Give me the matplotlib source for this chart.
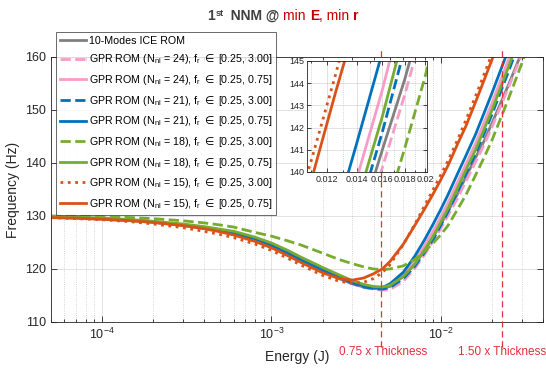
import matplotlib
matplotlib.use("Agg")
import matplotlib.pyplot as plt
from matplotlib.ticker import FixedLocator, NullFormatter, LogLocator

plt.rcParams['font.family'] = ['Liberation Sans', 'DejaVu Sans']
plt.rcParams['mathtext.fontset'] = 'custom'
plt.rcParams['mathtext.rm'] = 'Liberation Sans'
plt.rcParams['mathtext.it'] = 'Liberation Sans:italic'
plt.rcParams['mathtext.bf'] = 'Liberation Sans:bold'
plt.rcParams['mathtext.sf'] = 'DejaVu Sans'

# backbone curves: frequency (Hz) vs energy (J)
energy = [5e-5, 7e-5, 1e-4, 1.5e-4, 2e-4, 3e-4, 4e-4, 5e-4, 6e-4, 8e-4,
          1e-3, 1.25e-3, 1.5e-3, 2e-3, 2.5e-3, 3e-3, 3.5e-3, 4e-3, 4.5e-3, 5e-3,
          6e-3, 7e-3, 8e-3, 9e-3, 0.01, 0.011, 0.0125, 0.014, 0.016, 0.018,
          0.02, 0.025, 0.03, 0.04]

freq_ice = [129.7, 129.6, 129.4, 129.1, 128.8, 128.2, 127.7, 127.2, 126.7, 125.6,
            124.4, 122.9, 121.6, 119.6, 118.2, 117.2, 116.6, 116.3, 116.3, 116.7,
            118.6, 120.9, 123.5, 126.1, 128.5, 130.9, 134.1, 137.3, 141.0, 144.2,
            147.5, 154.7, 160.9, 171.0]
freq_24_wide = [129.7, 129.6, 129.4, 129.1, 128.8, 128.2, 127.7, 127.2, 126.7, 125.6,
                124.4, 122.9, 121.6, 119.7, 118.2, 117.2, 116.5, 116.2, 116.0, 116.1,
                117.7, 120.1, 122.7, 125.3, 127.7, 130.1, 133.3, 136.5, 140.2, 143.5,
                146.8, 154.2, 160.5, 170.8]
freq_24_narrow = [129.8, 129.7, 129.5, 129.2, 128.9, 128.3, 127.8, 127.3, 126.8, 125.7,
                  124.5, 123.0, 121.7, 119.8, 118.4, 117.4, 116.8, 116.5, 116.4, 117.0,
                  118.9, 121.5, 124.4, 127.2, 129.9, 132.5, 136.3, 139.7, 143.7, 147.7,
                  151.3, 159.5, 166.4, 177.6]
freq_21_wide = [129.8, 129.7, 129.5, 129.2, 128.9, 128.3, 127.8, 127.3, 126.8, 125.7,
                124.5, 123.0, 121.6, 119.7, 118.3, 117.3, 116.6, 116.3, 116.2, 116.5,
                118.2, 120.5, 123.1, 125.6, 128.3, 130.8, 134.5, 137.9, 141.8, 145.6,
                149.2, 157.2, 164.1, 175.2]
freq_21_narrow = [129.8, 129.7, 129.5, 129.2, 128.9, 128.3, 127.8, 127.3, 126.8, 125.7,
                  124.5, 123.0, 121.7, 119.8, 118.4, 117.4, 116.8, 116.5, 116.5, 117.2,
                  119.4, 122.4, 125.5, 128.5, 131.3, 134.0, 137.9, 141.3, 145.4, 149.5,
                  153.2, 161.4, 168.4, 179.6]
freq_18_wide = [130.0, 130.0, 129.9, 129.7, 129.5, 129.1, 128.7, 128.3, 127.9, 126.9,
                126.2, 125.3, 124.5, 123.0, 121.8, 121.0, 120.4, 120.0, 119.9, 120.0,
                120.6, 121.8, 123.3, 124.9, 126.5, 128.2, 131.2, 133.9, 137.7, 141.1,
                144.3, 152.1, 158.8, 170.1]
freq_18_narrow = [129.8, 129.7, 129.6, 129.3, 129.0, 128.5, 128.0, 127.5, 127.1, 126.0,
                  124.9, 123.5, 122.2, 120.3, 118.9, 117.8, 117.1, 116.7, 116.6, 116.9,
                  118.6, 120.9, 123.6, 126.2, 128.9, 131.4, 135.2, 138.6, 142.5, 146.4,
                  150.0, 158.1, 165.0, 176.1]
freq_15_wide = [129.7, 129.5, 129.3, 128.9, 128.5, 127.8, 127.1, 126.5, 125.9, 124.7,
                123.5, 122.0, 120.7, 118.8, 117.7, 117.3, 117.5, 118.2, 119.3, 120.8,
                124.6, 128.4, 131.9, 135.0, 137.8, 140.4, 144.3, 148.0, 152.6, 156.8,
                160.6, 169.1, 176.2, 187.7]
freq_15_narrow = [129.7, 129.6, 129.4, 129.1, 128.8, 128.2, 127.6, 127.0, 126.4, 125.2,
                  124.0, 122.5, 121.2, 119.3, 118.2, 117.9, 118.3, 119.1, 120.0, 121.4,
                  124.7, 128.2, 131.3, 134.2, 136.9, 139.5, 143.5, 146.9, 151.5, 155.7,
                  159.5, 168.0, 175.1, 186.6]

elem = r'$\mathsf{\in}$'
labels = ['10-Modes ICE ROM',
          r'GPR ROM (N$_{\mathrm{nl}}$ = 24), f$_{\mathrm{r}}$ ' + elem + ' [0.25, 3.00]',
          r'GPR ROM (N$_{\mathrm{nl}}$ = 24), f$_{\mathrm{r}}$ ' + elem + ' [0.25, 0.75]',
          r'GPR ROM (N$_{\mathrm{nl}}$ = 21), f$_{\mathrm{r}}$ ' + elem + ' [0.25, 3.00]',
          r'GPR ROM (N$_{\mathrm{nl}}$ = 21), f$_{\mathrm{r}}$ ' + elem + ' [0.25, 0.75]',
          r'GPR ROM (N$_{\mathrm{nl}}$ = 18), f$_{\mathrm{r}}$ ' + elem + ' [0.25, 3.00]',
          r'GPR ROM (N$_{\mathrm{nl}}$ = 18), f$_{\mathrm{r}}$ ' + elem + ' [0.25, 0.75]',
          r'GPR ROM (N$_{\mathrm{nl}}$ = 15), f$_{\mathrm{r}}$ ' + elem + ' [0.25, 3.00]',
          r'GPR ROM (N$_{\mathrm{nl}}$ = 15), f$_{\mathrm{r}}$ ' + elem + ' [0.25, 0.75]']
freqs = [freq_ice, freq_24_wide, freq_24_narrow, freq_21_wide, freq_21_narrow,
         freq_18_wide, freq_18_narrow, freq_15_wide, freq_15_narrow]
colors = ['#808080', '#F59CC8', '#F59CC8', '#0072BD', '#0072BD',
          '#77AC30', '#77AC30', '#D95319', '#D95319']
styles = ['-', '--', '-', '--', '-', '--', '-', ':', '-']

# energy levels of the thickness cases
thick_energy = [4.4e-3, 2.3e-2]
thick_labels = ['0.75 x Thickness', '1.50 x Thickness']
thick_shift = [1.035, 1.0]

red = '#E0303C'
dark = '#262626'

fig = plt.figure(figsize=(5.46, 3.71), dpi=100)
ax = fig.add_axes([0.0934, 0.1321, 0.9011, 0.7143])

for f, c, ls, lab in zip(freqs, colors, styles, labels):
    ax.plot(energy, f, color=c, ls=ls, lw=2, label=lab)

ax.set_xscale('log')
ax.set_xlim(5e-5, 4e-2)
ax.set_ylim(110, 160)
ax.set_yticks([110, 120, 130, 140, 150, 160])
ax.xaxis.set_major_locator(LogLocator(base=10, numticks=10))
ax.xaxis.set_minor_locator(LogLocator(base=10, subs=range(2, 10), numticks=20))
ax.xaxis.set_minor_formatter(NullFormatter())
ax.grid(True, which='major', color=dark, alpha=0.15, lw=0.6)
ax.grid(True, which='minor', axis='x', color=dark, alpha=0.25, lw=0.6, ls=':')
ax.tick_params(which='both', direction='in', top=True, right=True,
               labelsize=9, colors=dark, width=0.6)
ax.tick_params(which='major', length=4)
ax.tick_params(which='minor', length=2)
for sp in ax.spines.values():
    sp.set_color(dark)
    sp.set_linewidth(0.6)
ax.set_xlabel('Energy (J)', fontsize=10, color=dark, labelpad=6)
ax.set_ylabel('Frequency (Hz)', fontsize=10, color=dark, labelpad=4)

# thickness markers running below the axis
for e, lab, k in zip(thick_energy, thick_labels, thick_shift):
    ax.plot([e, e], [-0.094, 1.026], transform=ax.get_xaxis_transform(),
            color=red, lw=0.9, ls=(0, (5, 3)), clip_on=False, zorder=5)
    ax.text(e * k, -0.113, lab, transform=ax.get_xaxis_transform(),
            ha='center', va='center', color=red, fontsize=8.5)

leg = ax.legend(loc='upper left', bbox_to_anchor=(0.0102, 1.094), borderaxespad=0,
                fontsize=7.7, frameon=True, fancybox=False, handlelength=2.5,
                handletextpad=0.2, labelspacing=0.62, borderpad=0.35)
leg.get_frame().set_edgecolor(dark)
leg.get_frame().set_linewidth(0.6)
leg.set_zorder(10)

# zoom on the hardening branch
axin = fig.add_axes([0.5623, 0.5364, 0.2198, 0.2992])
for f, c, ls in zip(freqs, colors, styles):
    axin.plot(energy, f, color=c, ls=ls, lw=2)
axin.set_xscale('log')
axin.set_xlim(0.0108, 0.0202)
axin.set_ylim(140, 145)
axin.xaxis.set_major_locator(FixedLocator([0.012, 0.014, 0.016, 0.018, 0.02]))
axin.set_xticklabels(['0.012', '0.014', '0.016', '0.018', '0.02'])
axin.xaxis.set_minor_locator(FixedLocator([0.011, 0.013, 0.015, 0.017, 0.019]))
axin.xaxis.set_minor_formatter(NullFormatter())
axin.set_yticks([140, 141, 142, 143, 144, 145])
axin.grid(True, which='major', color=dark, alpha=0.15, lw=0.6)
axin.grid(True, which='minor', axis='x', color=dark, alpha=0.25, lw=0.6, ls=':')
axin.tick_params(which='both', direction='in', top=True, right=True,
                 labelsize=6.5, colors=dark, width=0.6, length=3, pad=2)
axin.tick_params(which='minor', length=1.5)
for sp in axin.spines.values():
    sp.set_color(dark)
    sp.set_linewidth(0.6)

# title assembled from pieces with their own colour and weight
title_gray = '#404040'
title_red = '#C00000'
pieces = [('1', title_gray, 'bold', 10, 0),
          ('st', title_gray, 'bold', 6.5, 4),
          ('  NNM @ ', title_gray, 'bold', 10, 0),
          ('min ', title_red, 'normal', 10, 0),
          ('E', title_red, 'bold', 10, 0),
          (', min ', title_red, 'normal', 10, 0),
          ('r', title_red, 'bold', 10, 0)]
renderer = fig.canvas.get_renderer()
texts = []
widths = []
for s, c, w, size, dy in pieces:
    t = fig.text(0, 0, s, color=c, fontweight=w, fontsize=size, va='baseline')
    texts.append(t)
    widths.append(t.get_window_extent(renderer).width)
x = 283 - sum(widths) / 2
for t, wd, p in zip(texts, widths, pieces):
    t.set_position((x / 546, (371 - 20 + p[4]) / 371))
    x += wd

fig.savefig('out.png', dpi=100)
